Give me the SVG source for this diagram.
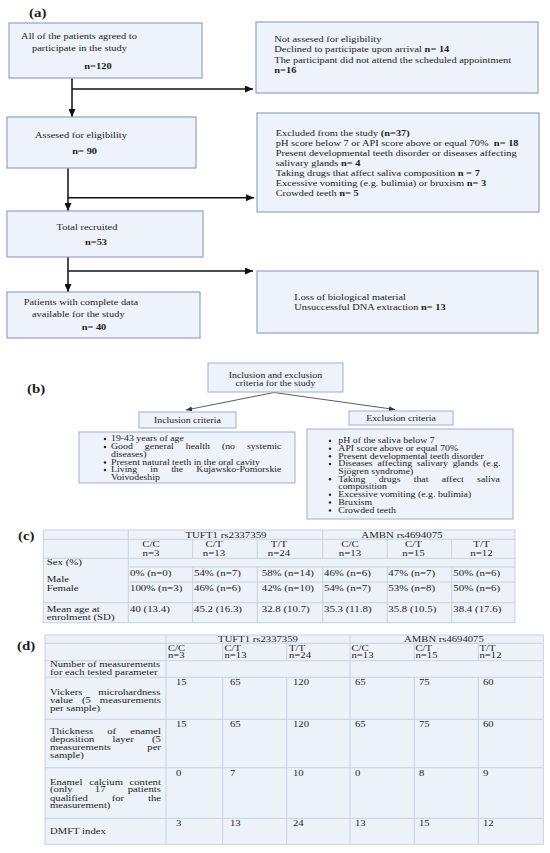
<svg xmlns="http://www.w3.org/2000/svg" width="550" height="853" viewBox="0 0 550 853">
<defs>
<style>
text{font-family:"Liberation Serif","Times New Roman",serif;fill:#1b1b1b;transform-box:fill-box;transform-origin:0 0;}
.m{text-anchor:middle;transform-origin:50% 0;}
.a{font-size:9px;transform:scaleX(1.155);}
.b{font-size:8px;transform:scaleX(1.23);}
.c{font-size:8px;transform:scaleX(1.36);}
.d{font-size:8px;transform:scaleX(1.335);}
.lbl{font-size:13px;font-weight:bold;transform:scaleX(1.15);}
.bd{font-weight:bold;}
.boxa{fill:#eef2fa;stroke:#8fa3c7;stroke-width:1.2;}
.boxb{fill:#eef2fa;stroke:#9eb0cf;stroke-width:1;}
.tbl{fill:#edf2f9;stroke:#c5d2e4;stroke-width:1;}
.tl{stroke:#c5d2e4;stroke-width:1;fill:none;}
.ca{stroke:#111;stroke-width:1.5;fill:none;}
.cb{stroke:#333;stroke-width:0.8;fill:none;}
.bul{fill:#222;}
</style>
<marker id="ah" markerUnits="userSpaceOnUse" markerWidth="8" markerHeight="7" refX="8" refY="3.5" orient="auto"><path d="M0,0 L8,3.5 L0,7 z" fill="#111"/></marker>
<marker id="ahs" markerUnits="userSpaceOnUse" markerWidth="6" markerHeight="5" refX="6" refY="2.5" orient="auto"><path d="M0,0 L6,2.5 L0,5 z" fill="#333"/></marker>
</defs>
<rect width="550" height="853" fill="#ffffff"/>

<g id="panel-labels">
<text class="lbl" x="29" y="17">(a)</text>
<text class="lbl" x="27" y="393">(b)</text>
<text class="lbl" x="18" y="540">(c)</text>
<text class="lbl" x="17" y="650">(d)</text>
</g>

<g id="connectors">
<path class="ca" d="M72,78 V117" marker-end="url(#ah)"/>
<path class="ca" d="M72,89 H253" marker-end="url(#ah)"/>
<path class="ca" d="M68,168 V211" marker-end="url(#ah)"/>
<path class="ca" d="M68,197.7 H254" marker-end="url(#ah)"/>
<path class="ca" d="M68,257 V292" marker-end="url(#ah)"/>
<path class="ca" d="M68,271 H253" marker-end="url(#ah)"/>
<path class="cb" d="M274,392.5 L186,410" marker-end="url(#ahs)"/>
<path class="cb" d="M274,392.5 L395,409.5" marker-end="url(#ahs)"/>
</g>

<g id="agreed">
<rect class="boxa" x="9" y="23" width="193" height="55"/>
<text class="a m" x="79" y="39">All of the patients agreed to</text>
<text class="a m" x="79.5" y="51">participate in the study</text>
<text class="a m bd" x="98" y="69">n=120</text>
</g>

<g id="not-assessed">
<rect class="boxa" x="256" y="22" width="282" height="71"/>
<text class="a" x="274.3" y="42.3">Not assesed for eligibility</text>
<text class="a" x="274.3" y="52.3">Declined to participate upon arrival <tspan class="bd">n= 14</tspan></text>
<text class="a" x="274.3" y="63">The participant did not attend the scheduled appointment</text>
<text class="a bd" x="274.3" y="73">n=16</text>
</g>

<g id="assessed">
<rect class="boxa" x="7" y="117" width="189" height="51"/>
<text class="a m" x="81" y="138">Assesed for eligibility</text>
<text class="a m bd" x="84.7" y="154">n= 90</text>
</g>

<g id="excluded">
<rect class="boxa" x="257" y="113" width="282" height="99"/>
<text class="a" x="275.7" y="136.3">Excluded from the study <tspan class="bd">(n=37)</tspan></text>
<text class="a" x="275.7" y="146.3">pH score below 7 or API score above or equal 70%&#160; <tspan class="bd">n= 18</tspan></text>
<text class="a" x="275.7" y="156.3">Present developmental teeth disorder or diseases affecting</text>
<text class="a" x="275.7" y="166.3">salivary glands <tspan class="bd">n= 4</tspan></text>
<text class="a" x="275.7" y="176.3">Taking drugs that affect saliva composition <tspan class="bd">n = 7</tspan></text>
<text class="a" x="275.7" y="186.3">Excessive vomiting (e.g. bulimia) or bruxism <tspan class="bd">n= 3</tspan></text>
<text class="a" x="275.7" y="195.7">Crowded teeth <tspan class="bd">n= 5</tspan></text>
</g>

<g id="recruited">
<rect class="boxa" x="7" y="211" width="196" height="46"/>
<text class="a m" x="87" y="229.7">Total recruited</text>
<text class="a m bd" x="96" y="245.3">n=53</text>
</g>

<g id="complete">
<rect class="boxa" x="7" y="292" width="193" height="46"/>
<text class="a m" x="81" y="304.7">Patients with complete data</text>
<text class="a m" x="78.3" y="317">available for the study</text>
<text class="a m bd" x="94" y="330">n= 40</text>
</g>

<g id="loss">
<rect class="boxa" x="257" y="271" width="281" height="62"/>
<text class="a" x="294.3" y="299.7">Loss of biological material</text>
<text class="a" x="294.3" y="309.7">Unsuccessful DNA extraction <tspan class="bd">n= 13</tspan></text>
</g>

<g id="criteria">
<rect class="boxb" x="208" y="363" width="135" height="29"/>
<text class="b m" x="275.5" y="378.2">Inclusion and exclusion</text>
<text class="b m" x="275.5" y="385.8">criteria for the study</text>
</g>

<g id="inclusion">
<rect class="boxb" x="139" y="412" width="97" height="16"/>
<text class="b m" x="187.5" y="423.5">Inclusion criteria</text>
</g>

<g id="exclusion">
<rect class="boxb" x="349" y="411" width="104" height="14"/>
<text class="b m" x="401" y="421">Exclusion criteria</text>
</g>

<g id="inclusion-list">
<rect class="boxb" x="79" y="432" width="216" height="51"/>
<circle class="bul" cx="105" cy="439" r="1.2"/>
<circle class="bul" cx="105" cy="447" r="1.2"/>
<circle class="bul" cx="105" cy="462.5" r="1.2"/>
<circle class="bul" cx="105" cy="470" r="1.2"/>
<text class="b" x="111" y="441.5">19-43 years of age</text>
<text class="b" x="111" y="449.5" style="word-spacing:7.8px">Good general health (no systemic</text>
<text class="b" x="111" y="457">diseases)</text>
<text class="b" x="111" y="465">Present natural teeth in the oral cavity</text>
<text class="b" x="111" y="472.5" style="word-spacing:8.7px">Living in the Kujawsko-Pomorskie</text>
<text class="b" x="111" y="480">Voivodeship</text>
</g>

<g id="exclusion-list">
<rect class="boxb" x="307" y="429" width="206" height="90"/>
<circle class="bul" cx="330" cy="441" r="1.2"/>
<circle class="bul" cx="330" cy="448.7" r="1.2"/>
<circle class="bul" cx="330" cy="456.3" r="1.2"/>
<circle class="bul" cx="330" cy="464" r="1.2"/>
<circle class="bul" cx="330" cy="479.3" r="1.2"/>
<circle class="bul" cx="330" cy="494.7" r="1.2"/>
<circle class="bul" cx="330" cy="502.5" r="1.2"/>
<circle class="bul" cx="330" cy="510.5" r="1.2"/>
<text class="b" x="338.3" y="443.5">pH of the saliva below 7</text>
<text class="b" x="338.3" y="451.2">API score above or equal 70%</text>
<text class="b" x="338.3" y="458.8">Present developmental teeth disorder</text>
<text class="b" x="338.3" y="466.5" style="word-spacing:1.85px">Diseases affecting salivary glands (e.g.</text>
<text class="b" x="338.3" y="474.2">Sjögren syndrome)</text>
<text class="b" x="338.3" y="481.8" style="word-spacing:8.75px">Taking drugs that affect saliva</text>
<text class="b" x="338.3" y="489.5">composition</text>
<text class="b" x="338.3" y="497.2">Excessive vomiting (e.g. bulimia)</text>
<text class="b" x="338.3" y="505">Bruxism</text>
<text class="b" x="338.3" y="513">Crowded teeth</text>
</g>

<g id="table-c">
<rect class="tbl" x="43.3" y="530" width="471.7" height="92.7"/>
<path class="tl" d="M43.3,539.3 H515 M43.3,558.3 H515 M128.3,567 H515 M128.3,582 H515 M43.3,602.7 H515"/>
<path class="tl" d="M128.3,530 V622.7 M322.7,530 V558.3 M322.7,567 V622.7"/>
<path class="tl" d="M192.7,539.3 V558.3 M257.3,539.3 V558.3 M387.3,539.3 V558.3 M451.7,539.3 V558.3"/>
<path class="tl" d="M192.7,567 V622.7 M257.3,567 V622.7 M387.3,567 V622.7 M451.7,567 V622.7"/>
<text class="c m" x="226" y="537.8">TUFT1 rs2337359</text>
<text class="c m" x="402" y="537.8">AMBN rs4694075</text>
<text class="c m" x="151" y="547.5">C/C</text><text class="c m" x="151" y="555.8">n=3</text>
<text class="c m" x="214" y="547.5">C/T</text><text class="c m" x="214" y="555.8">n=13</text>
<text class="c m" x="279" y="547.5">T/T</text><text class="c m" x="279" y="555.8">n=24</text>
<text class="c m" x="350" y="547.5">C/C</text><text class="c m" x="350" y="555.8">n=13</text>
<text class="c m" x="413.5" y="547.5">C/T</text><text class="c m" x="413.5" y="555.8">n=15</text>
<text class="c m" x="481.5" y="547.5">T/T</text><text class="c m" x="481.5" y="555.8">n=12</text>
<text class="c" x="46.7" y="565.5">Sex (%)</text>
<text class="c" x="46.7" y="582">Male</text>
<text class="c" x="46.7" y="591.5">Female</text>
<text class="c" x="46.7" y="611.8">Mean age at</text>
<text class="c" x="46.7" y="619.8">enrolment (SD)</text>
<text class="c" x="130" y="575.8">0% (n=0)</text>
<text class="c" x="194" y="575.8">54% (n=7)</text>
<text class="c" x="261.7" y="575.8">58% (n=14)</text>
<text class="c" x="324" y="575.8">46% (n=6)</text>
<text class="c" x="388.3" y="575.8">47% (n=7)</text>
<text class="c" x="453.3" y="575.8">50% (n=6)</text>
<text class="c" x="130" y="590.8">100% (n=3)</text>
<text class="c" x="194" y="590.8">46% (n=6)</text>
<text class="c" x="261.7" y="590.8">42% (n=10)</text>
<text class="c" x="324" y="590.8">54% (n=7)</text>
<text class="c" x="388.3" y="590.8">53% (n=8)</text>
<text class="c" x="453.3" y="590.8">50% (n=6)</text>
<text class="c" x="130" y="611.8">40 (13.4)</text>
<text class="c" x="194" y="611.8">45.2 (16.3)</text>
<text class="c" x="261.7" y="611.8">32.8 (10.7)</text>
<text class="c" x="324" y="611.8">35.3 (11.8)</text>
<text class="c" x="388.3" y="611.8">35.8 (10.5)</text>
<text class="c" x="453.3" y="611.8">38.4 (17.6)</text>
</g>

<g id="table-d">
<rect class="tbl" x="45" y="635" width="498.3" height="209.3"/>
<path class="tl" d="M45,643.3 H543.3 M45,660.7 H543.3 M45,677.3 H543.3 M45,719.3 H543.3 M45,767.7 H543.3 M45,818.3 H543.3"/>
<path class="tl" d="M166,635 V844.3 M350,635 V844.3"/>
<path class="tl" d="M222.7,643.3 V660.7 M286.7,643.3 V660.7 M414.3,643.3 V660.7 M478.3,643.3 V660.7"/>
<path class="tl" d="M222.7,677.3 V844.3 M286.7,677.3 V844.3 M414.3,677.3 V844.3 M478.3,677.3 V844.3"/>
<text class="d m" x="258" y="641.8">TUFT1 rs2337359</text>
<text class="d m" x="444" y="641.8">AMBN rs4694075</text>
<text class="d" x="168" y="651">C/C</text><text class="d" x="168" y="658">n=3</text>
<text class="d" x="224.5" y="651">C/T</text><text class="d" x="224.5" y="658">n=13</text>
<text class="d" x="289" y="651">T/T</text><text class="d" x="289" y="658">n=24</text>
<text class="d" x="351.5" y="651">C/C</text><text class="d" x="351.5" y="658">n=13</text>
<text class="d" x="415.5" y="651">C/T</text><text class="d" x="415.5" y="658">n=15</text>
<text class="d" x="479.5" y="651">T/T</text><text class="d" x="479.5" y="658">n=12</text>
<text class="d" x="50" y="667.5">Number of measurements</text>
<text class="d" x="50" y="675.2">for each tested parameter</text>
<text class="d" x="50" y="695.2" style="word-spacing:9.7px">Vickers microhardness</text>
<text class="d" x="50" y="703.2" style="word-spacing:4.7px">value (5 measurements</text>
<text class="d" x="50" y="710.8">per sample)</text>
<text class="d" x="50" y="734.2" style="word-spacing:8.5px">Thickness of enamel</text>
<text class="d" x="50" y="742.5" style="word-spacing:11.6px">deposition layer (5</text>
<text class="d" x="50" y="750.2" style="word-spacing:25.2px">measurements per</text>
<text class="d" x="50" y="757.8">sample)</text>
<text class="d" x="50" y="784.8" style="word-spacing:2.95px">Enamel calcium content</text>
<text class="d" x="50" y="792.5" style="word-spacing:14.7px">(only 17 patients</text>
<text class="d" x="50" y="800.8" style="word-spacing:15.85px">qualified for the</text>
<text class="d" x="50" y="808.5">measurement)</text>
<text class="d" x="50" y="834.2">DMFT index</text>
<text class="d" x="176" y="684.8">15</text><text class="d" x="230" y="684.8">65</text><text class="d" x="293" y="684.8">120</text><text class="d" x="355" y="684.8">65</text><text class="d" x="419" y="684.8">75</text><text class="d" x="483" y="684.8">60</text>
<text class="d" x="176" y="726.8">15</text><text class="d" x="230" y="726.8">65</text><text class="d" x="293" y="726.8">120</text><text class="d" x="355" y="726.8">65</text><text class="d" x="419" y="726.8">75</text><text class="d" x="483" y="726.8">60</text>
<text class="d" x="176" y="775.8">0</text><text class="d" x="230" y="775.8">7</text><text class="d" x="293" y="775.8">10</text><text class="d" x="355" y="775.8">0</text><text class="d" x="419" y="775.8">8</text><text class="d" x="483" y="775.8">9</text>
<text class="d" x="176" y="826.5">3</text><text class="d" x="230" y="826.5">13</text><text class="d" x="293" y="826.5">24</text><text class="d" x="355" y="826.5">13</text><text class="d" x="419" y="826.5">15</text><text class="d" x="483" y="826.5">12</text>
</g>
</svg>
